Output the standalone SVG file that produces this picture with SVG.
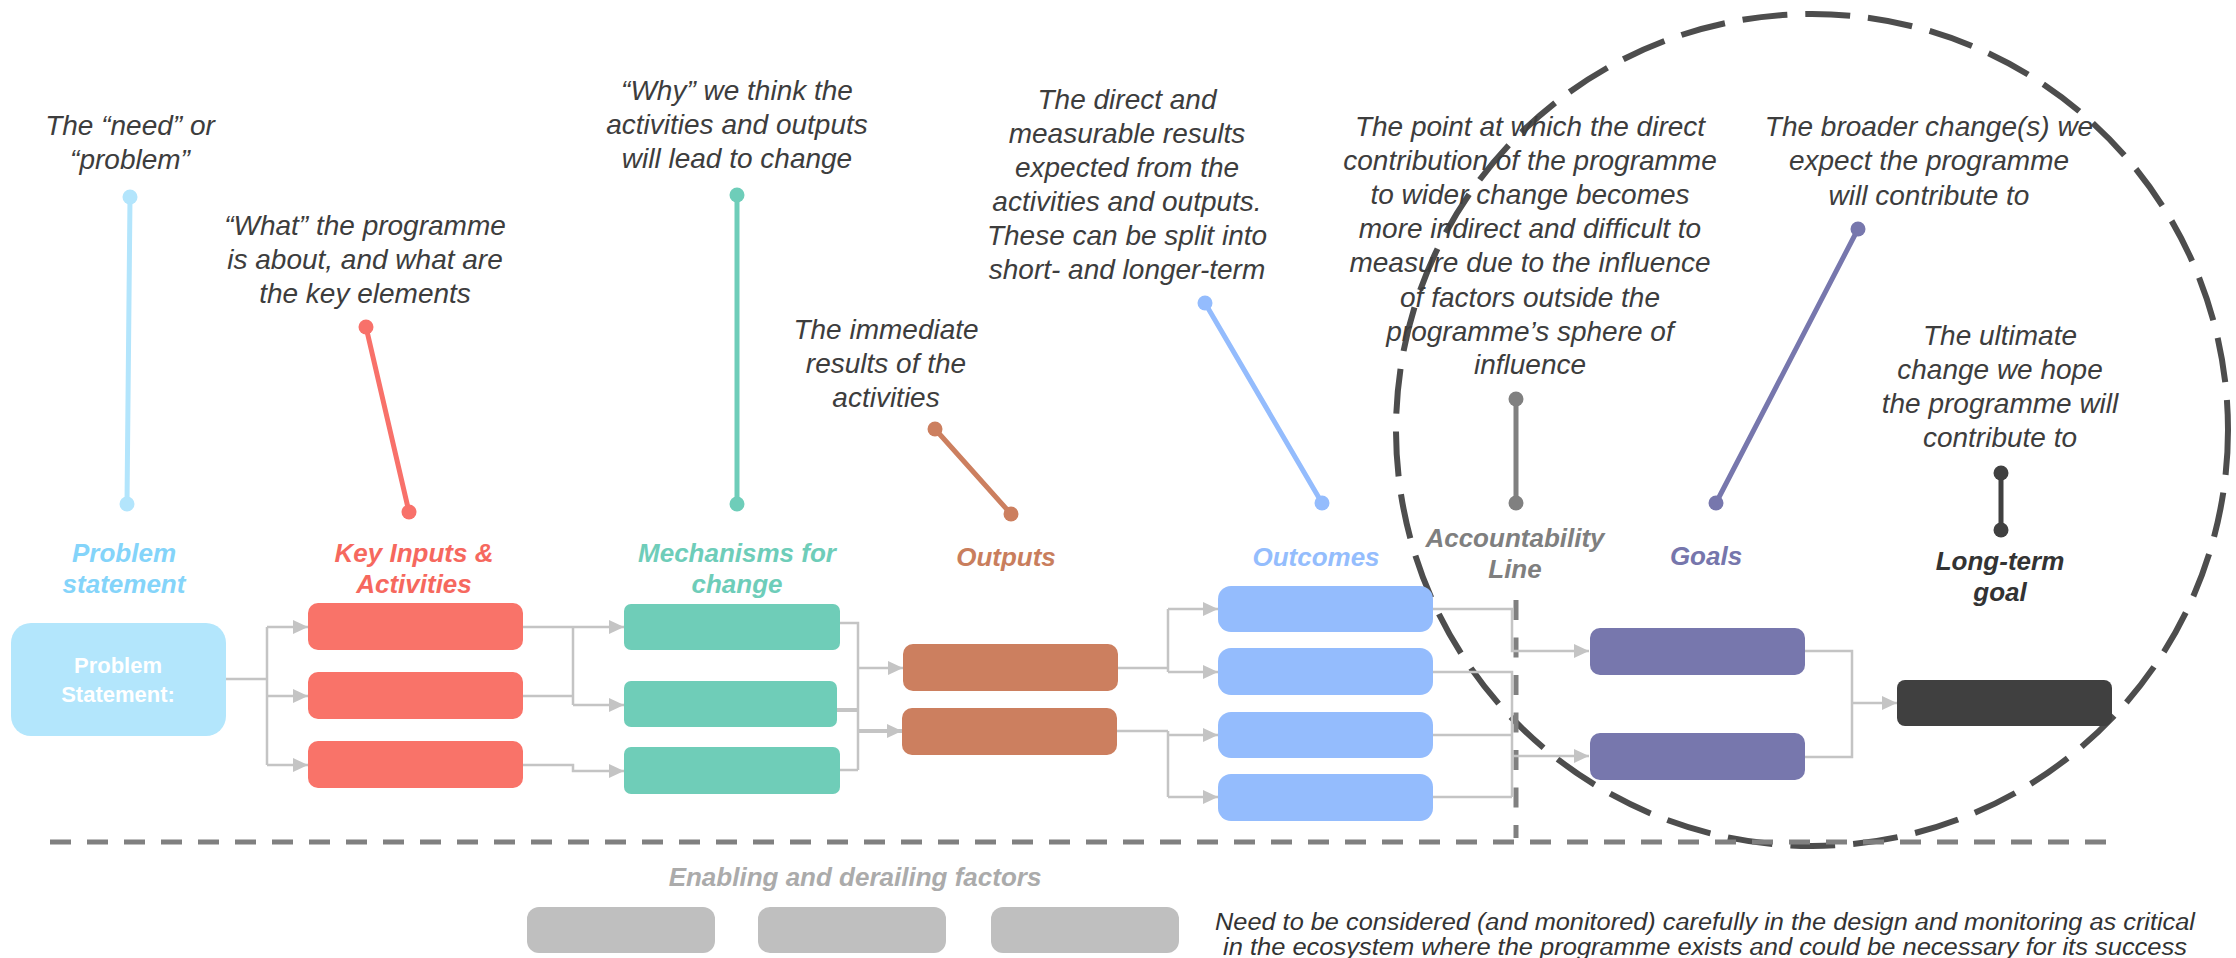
<svg xmlns="http://www.w3.org/2000/svg" width="2236" height="958" viewBox="0 0 2236 958">
  <style>
    .desc { font-family: "Liberation Sans", Arial, sans-serif; font-style: italic; font-size: 28px; fill: #3d3d3d; text-anchor: middle; }
    .label { font-family: "Liberation Sans", Arial, sans-serif; font-style: italic; font-weight: bold; font-size: 26px; text-anchor: middle; }
    .boxtext { font-family: "Liberation Sans", Arial, sans-serif; font-weight: bold; font-size: 22px; fill: #ffffff; text-anchor: middle; }
    .note { font-family: "Liberation Sans", Arial, sans-serif; font-style: italic; font-size: 23px; fill: #333333; text-anchor: middle; }
    .conn { fill: none; stroke: #c4c4c4; stroke-width: 2.5; }
    .conn-thick { fill: none; stroke: #c4c4c4; stroke-width: 4; }
    .arrow { marker-end: url(#head); }
    .pin { stroke-width: 5; stroke-linecap: round; }
  </style>
  <defs>
    <marker id="head" markerUnits="userSpaceOnUse" markerWidth="16" markerHeight="16" refX="15" refY="7" orient="auto">
      <path d="M0,0 L15,7 L0,14 Z" fill="#c4c4c4"/>
    </marker>
  </defs>

  <rect width="2236" height="958" fill="#ffffff"/>

  <!-- sphere of influence -->
  <circle id="sphere" cx="1812" cy="430" r="416" fill="none" stroke="#4d4d4d" stroke-width="6" stroke-dasharray="45 18"/>

  <!-- baseline separating enabling and derailing factors -->
  <line id="factors-divider" x1="50" y1="842" x2="2108" y2="842" stroke="#808080" stroke-width="5" stroke-dasharray="21 16"/>
  <!-- accountability line -->
  <line id="accountability-line" x1="1516" y1="600" x2="1516" y2="838" stroke="#808080" stroke-width="5" stroke-dasharray="20 17.5"/>

  <!-- connectors -->
  <g id="connectors">
    <path class="conn" d="M226,679 H267 M267,627 V765"/>
    <path class="conn arrow" d="M267,627 H308"/>
    <path class="conn arrow" d="M267,696 H308"/>
    <path class="conn arrow" d="M267,765 H308"/>

    <path class="conn arrow" d="M523,627 H624"/>
    <path class="conn" d="M523,696 H573 M573,627 V705"/>
    <path class="conn arrow" d="M573,705 H624"/>
    <path class="conn arrow" d="M523,765 H573 V771 H624"/>

    <path class="conn" d="M840,623 H858 V770 M840,770 H858"/>
    <path class="conn-thick" d="M837,710 H858"/>
    <path class="conn arrow" d="M858,668 H903"/>
    <path class="conn-thick arrow" d="M858,731 H902"/>

    <path class="conn" d="M1118,668 H1168 M1168,609 V672"/>
    <path class="conn arrow" d="M1168,609 H1218"/>
    <path class="conn arrow" d="M1168,672 H1218"/>
    <path class="conn" d="M1117,731 H1168 M1168,731 V797"/>
    <path class="conn arrow" d="M1168,735 H1218"/>
    <path class="conn arrow" d="M1168,797 H1218"/>

    <path class="conn arrow" d="M1433,609 H1512 V651 H1589"/>
    <path class="conn" d="M1433,672 H1512 V797 M1433,735 H1512 M1433,797 H1512"/>
    <path class="conn arrow" d="M1512,756 H1589"/>

    <path class="conn" d="M1805,651 H1852 V757 H1805"/>
    <path class="conn arrow" d="M1852,703 H1897"/>
  </g>

  <!-- problem statement -->
  <g id="problem-statement">
    <text class="desc" x="130" y="135">The “need” or</text>
    <text class="desc" x="130" y="169">“problem”</text>
    <line class="pin" x1="130" y1="197" x2="127" y2="504" stroke="#b3e5fc"/>
    <circle cx="130" cy="197" r="7.5" fill="#b3e5fc"/>
    <circle cx="127" cy="504" r="7.5" fill="#b3e5fc"/>
    <text class="label" x="124" y="562" fill="#84d4fa">Problem</text>
    <text class="label" x="124" y="593" fill="#84d4fa">statement</text>
    <rect x="11" y="623" width="215" height="113" rx="20" fill="#b3e6fc"/>
    <text class="boxtext" x="118" y="673">Problem</text>
    <text class="boxtext" x="118" y="702">Statement:</text>
  </g>

  <!-- key inputs and activities -->
  <g id="key-inputs">
    <text class="desc" x="365" y="235">“What” the programme</text>
    <text class="desc" x="365" y="269">is about, and what are</text>
    <text class="desc" x="365" y="303">the key elements</text>
    <line class="pin" x1="366" y1="327" x2="409" y2="512" stroke="#f8716a"/>
    <circle cx="366" cy="327" r="7.5" fill="#f8716a"/>
    <circle cx="409" cy="512" r="7.5" fill="#f8716a"/>
    <text class="label" x="414" y="562" fill="#f6685e">Key Inputs &amp;</text>
    <text class="label" x="414" y="593" fill="#f6685e">Activities</text>
    <rect x="308" y="603" width="215" height="47" rx="10" fill="#f97369"/>
    <rect x="308" y="672" width="215" height="47" rx="10" fill="#f97369"/>
    <rect x="308" y="741" width="215" height="47" rx="10" fill="#f97369"/>
  </g>

  <!-- mechanisms for change -->
  <g id="mechanisms">
    <text class="desc" x="737" y="100">“Why” we think the</text>
    <text class="desc" x="737" y="134">activities and outputs</text>
    <text class="desc" x="737" y="168">will lead to change</text>
    <line class="pin" x1="737" y1="195" x2="737" y2="504" stroke="#6ecdb9"/>
    <circle cx="737" cy="195" r="7.5" fill="#6ecdb9"/>
    <circle cx="737" cy="504" r="7.5" fill="#6ecdb9"/>
    <text class="label" x="737" y="562" fill="#6ecdb9">Mechanisms for</text>
    <text class="label" x="737" y="593" fill="#6ecdb9">change</text>
    <rect x="624" y="604" width="216" height="46" rx="7" fill="#6fcdb8"/>
    <rect x="624" y="681" width="213" height="46" rx="7" fill="#6fcdb8"/>
    <rect x="624" y="747" width="216" height="47" rx="7" fill="#6fcdb8"/>
  </g>

  <!-- outputs -->
  <g id="outputs">
    <text class="desc" x="886" y="339">The immediate</text>
    <text class="desc" x="886" y="373">results of the</text>
    <text class="desc" x="886" y="407">activities</text>
    <line class="pin" x1="935" y1="429" x2="1011" y2="514" stroke="#cc7f5f"/>
    <circle cx="935" cy="429" r="7.5" fill="#cc7f5f"/>
    <circle cx="1011" cy="514" r="7.5" fill="#cc7f5f"/>
    <text class="label" x="1006" y="566" fill="#c97e5d">Outputs</text>
    <rect x="903" y="644" width="215" height="47" rx="10" fill="#cc7f5f"/>
    <rect x="902" y="708" width="215" height="47" rx="10" fill="#cc7f5f"/>
  </g>

  <!-- outcomes -->
  <g id="outcomes">
    <text class="desc" x="1127" y="109">The direct and</text>
    <text class="desc" x="1127" y="143">measurable results</text>
    <text class="desc" x="1127" y="177">expected from the</text>
    <text class="desc" x="1127" y="211">activities and outputs.</text>
    <text class="desc" x="1127" y="245">These can be split into</text>
    <text class="desc" x="1127" y="279">short- and longer-term</text>
    <line class="pin" x1="1205" y1="303" x2="1322" y2="503" stroke="#94bcfd"/>
    <circle cx="1205" cy="303" r="7.5" fill="#94bcfd"/>
    <circle cx="1322" cy="503" r="7.5" fill="#94bcfd"/>
    <text class="label" x="1316" y="566" fill="#94bdfd">Outcomes</text>
    <rect x="1218" y="586" width="215" height="46" rx="13" fill="#94bcfd"/>
    <rect x="1218" y="648" width="215" height="47" rx="13" fill="#94bcfd"/>
    <rect x="1218" y="712" width="215" height="46" rx="13" fill="#94bcfd"/>
    <rect x="1218" y="774" width="215" height="47" rx="13" fill="#94bcfd"/>
  </g>

  <!-- accountability line -->
  <g id="accountability">
    <text class="desc" x="1530" y="136">The point at which the direct</text>
    <text class="desc" x="1530" y="170">contribution of the programme</text>
    <text class="desc" x="1530" y="204">to wider change becomes</text>
    <text class="desc" x="1530" y="238">more indirect and difficult to</text>
    <text class="desc" x="1530" y="272">measure due to the influence</text>
    <text class="desc" x="1530" y="307">of factors outside the</text>
    <text class="desc" x="1530" y="341">programme’s sphere of</text>
    <text class="desc" x="1530" y="374">influence</text>
    <line class="pin" x1="1516" y1="399" x2="1516" y2="503" stroke="#808080"/>
    <circle cx="1516" cy="399" r="7.5" fill="#808080"/>
    <circle cx="1516" cy="503" r="7.5" fill="#808080"/>
    <text class="label" x="1515" y="547" fill="#7f7f7f">Accountability</text>
    <text class="label" x="1515" y="578" fill="#7f7f7f">Line</text>
  </g>

  <!-- goals -->
  <g id="goals">
    <text class="desc" x="1929" y="136">The broader change(s) we</text>
    <text class="desc" x="1929" y="170">expect the programme</text>
    <text class="desc" x="1929" y="205">will contribute to</text>
    <line class="pin" x1="1858" y1="229" x2="1716" y2="503" stroke="#7777ad"/>
    <circle cx="1858" cy="229" r="7.5" fill="#7777ad"/>
    <circle cx="1716" cy="503" r="7.5" fill="#7777ad"/>
    <text class="label" x="1706" y="565" fill="#7676ac">Goals</text>
    <rect x="1590" y="628" width="215" height="47" rx="10" fill="#7777ad"/>
    <rect x="1590" y="733" width="215" height="47" rx="10" fill="#7777ad"/>
  </g>

  <!-- long-term goal -->
  <g id="long-term-goal">
    <text class="desc" x="2000" y="345">The ultimate</text>
    <text class="desc" x="2000" y="379">change we hope</text>
    <text class="desc" x="2000" y="413">the programme will</text>
    <text class="desc" x="2000" y="447">contribute to</text>
    <line class="pin" x1="2001" y1="473" x2="2001" y2="530" stroke="#404040"/>
    <circle cx="2001" cy="473" r="7.5" fill="#404040"/>
    <circle cx="2001" cy="530" r="7.5" fill="#404040"/>
    <text class="label" x="2000" y="570" fill="#333333">Long-term</text>
    <text class="label" x="2000" y="601" fill="#333333">goal</text>
    <rect x="1897" y="680" width="215" height="46" rx="8" fill="#404040"/>
  </g>

  <!-- enabling and derailing factors -->
  <g id="factors">
    <text class="label" x="855" y="886" fill="#ababab">Enabling and derailing factors</text>
    <rect x="527" y="907" width="188" height="46" rx="12" fill="#bfbfbf"/>
    <rect x="758" y="907" width="188" height="46" rx="12" fill="#bfbfbf"/>
    <rect x="991" y="907" width="188" height="46" rx="12" fill="#bfbfbf"/>
    <text class="note" x="1705" y="930" textLength="980" lengthAdjust="spacingAndGlyphs">Need to be considered (and monitored) carefully in the design and monitoring as critical</text>
    <text class="note" x="1705" y="955" textLength="964" lengthAdjust="spacingAndGlyphs">in the ecosystem where the programme exists and could be necessary for its success</text>
  </g>
</svg>
